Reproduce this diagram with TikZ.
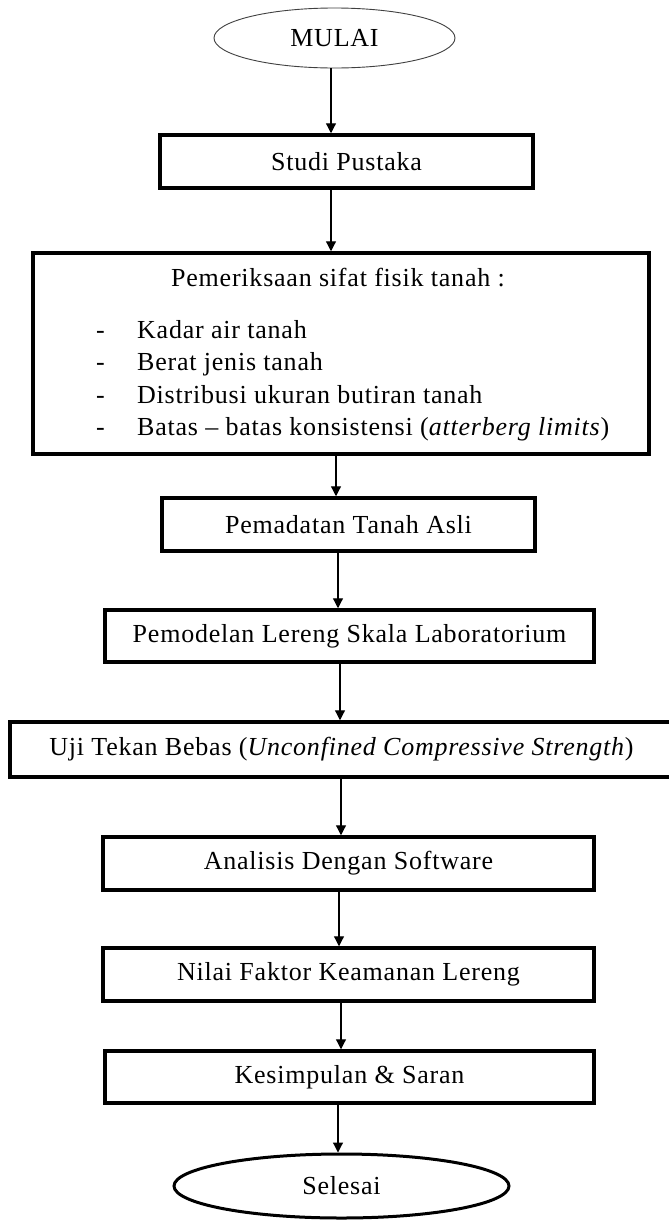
\documentclass[tikz,border=0pt]{standalone}
\usepackage{fontspec}
\setmainfont{Liberation Serif}[LetterSpace=3.0]
\usepackage{tikz}
\usetikzlibrary{arrows.meta, shapes.geometric}

\begin{document}
\begin{tikzpicture}[x=1pt, y=1pt, font=\fontsize{26}{30}\selectfont,
    box/.style={draw, line width=3.5pt, inner sep=0pt},
    term/.style={draw, ellipse, inner sep=0pt},
    item/.style={anchor=west, inner sep=0pt, text height=18pt, text depth=6pt},
    arr/.style={line width=1.2pt, -{Triangle[length=10pt, width=10pt]}}]
  \useasboundingbox[fill=white] (0,0) rectangle (669,-1221);
  % start and end
  \node[term, line width=0.9pt, draw=black!75, minimum width=241, minimum height=60]
    (mulai) at (334.5,-38) {MULAI};
  \node[term, line width=3pt, minimum width=335, minimum height=64]
    (selesai) at (341.5,-1186) {Selesai};
  % steps
  \node[box, minimum width=373, minimum height=53] (studi) at (346.5,-161.5) {Studi Pustaka};
  \node[box, minimum width=616, minimum height=201] (periksa) at (341,-353.5) {};
  \node[box, minimum width=373, minimum height=53] (padat) at (348.5,-524.5) {Pemadatan Tanah Asli};
  \node[box, minimum width=489, minimum height=52] (model) at (349.5,-636) {Pemodelan Lereng Skala Laboratorium};
  \node[box, minimum width=663, minimum height=55] (uji) at (341.5,-749.5)
    {Uji Tekan Bebas (\textit{Unconfined Compressive Strength})};
  \node[box, minimum width=491, minimum height=53] (analisis) at (348.5,-863.5) {Analisis Dengan Software};
  \node[box, minimum width=491, minimum height=53] (nilai) at (348.5,-974.5) {Nilai Faktor Keamanan Lereng};
  \node[box, minimum width=489, minimum height=52] (simpul) at (349.5,-1077) {Kesimpulan \& Saran};
  % contents of the soil test box
  \node (judul) at (338,-278) {Pemeriksaan sifat fisik tanah :};
  \node[item] (d1) at (96,-332) {-};
  \node[item] (d2) at (96,-364) {-};
  \node[item] (d3) at (96,-397) {-};
  \node[item] (d4) at (96,-429) {-};
  \node[item] (i1) at (137,-332) {Kadar air tanah};
  \node[item] (i2) at (137,-364) {Berat jenis tanah};
  \node[item] (i3) at (137,-397) {Distribusi ukuran butiran tanah};
  \node[item] (i4) at (137,-429) {Batas -- batas konsistensi (\textit{atterberg limits})};
  % arrows
  \draw[arr] ([xshift=-3.5pt]mulai.south) -- ([xshift=-3.5pt]mulai.south |- studi.north);
  \draw[arr] ([xshift=-15.5pt]studi.south) -- ([xshift=-15.5pt]studi.south |- periksa.north);
  \draw[arr] ([xshift=-5pt]periksa.south) -- ([xshift=-5pt]periksa.south |- padat.north);
  \draw[arr] ([xshift=-10.5pt]padat.south) -- ([xshift=-10.5pt]padat.south |- model.north);
  \draw[arr] ([xshift=-9.5pt]model.south) -- ([xshift=-9.5pt]model.south |- uji.north);
  \draw[arr] ([xshift=-0.5pt]uji.south) -- ([xshift=-0.5pt]uji.south |- analisis.north);
  \draw[arr] ([xshift=-9.5pt]analisis.south) -- ([xshift=-9.5pt]analisis.south |- nilai.north);
  \draw[arr] ([xshift=-7.5pt]nilai.south) -- ([xshift=-7.5pt]nilai.south |- simpul.north);
  \draw[arr] ([xshift=-11.5pt]simpul.south) -- ([xshift=-11.5pt]simpul.south |- selesai.north);
\end{tikzpicture}
\end{document}
